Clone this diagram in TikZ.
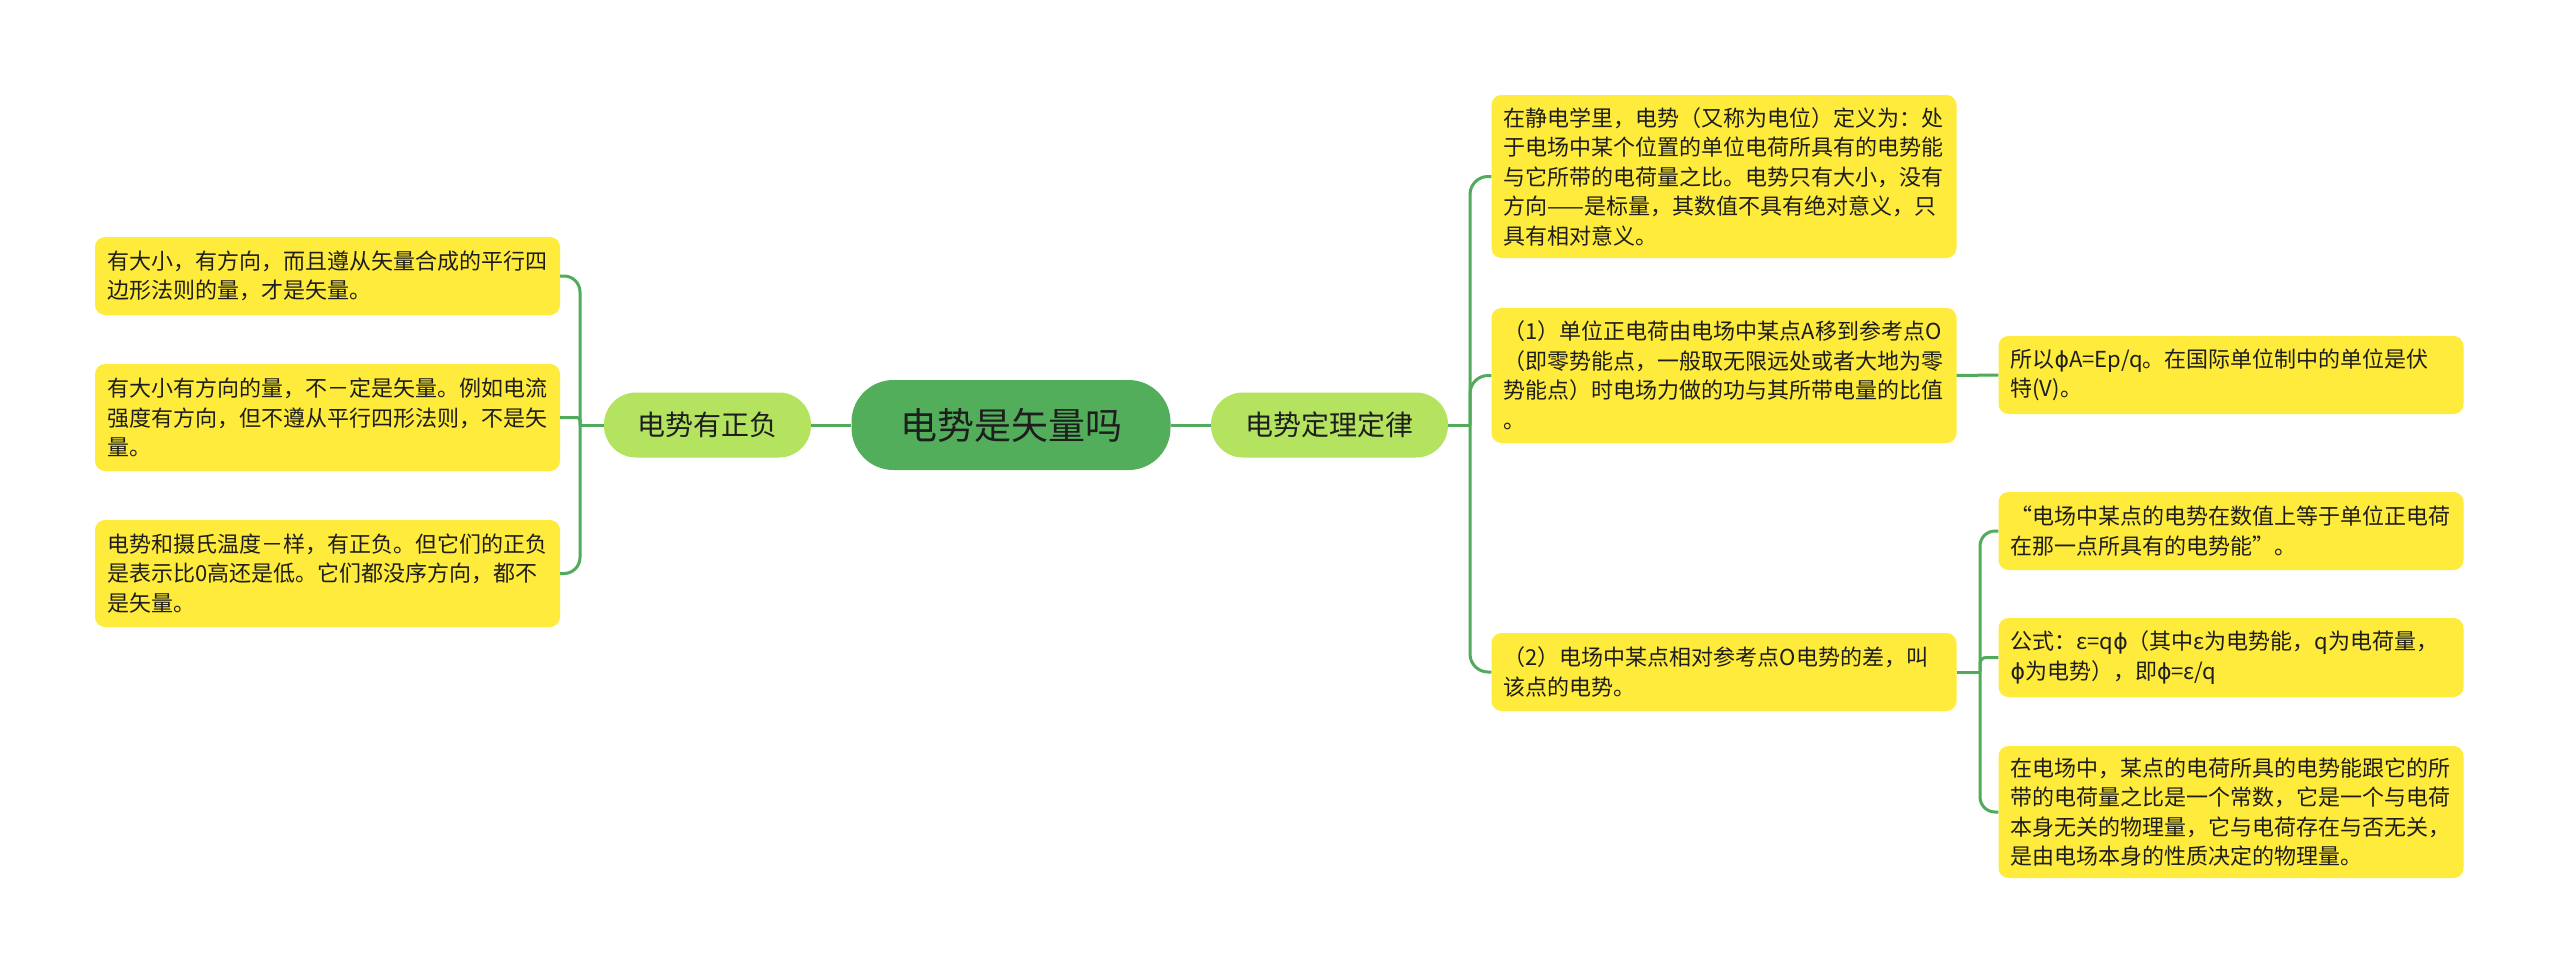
\documentclass[tikz,border=0pt]{standalone}
\usepackage{fontspec}
\setmainfont{Noto Sans CJK SC}
\newfontfamily\dejavufam{DejaVu Sans}
\newcommand{\myphi}{{\dejavufam ϕ}}
\definecolor{leafy}{RGB}{255,235,59}
\definecolor{branchg}{RGB}{180,227,96}
\definecolor{rootg}{RGB}{82,174,90}
\definecolor{connc}{RGB}{82,170,92}
\definecolor{txt}{RGB}{30,30,30}
\begin{document}
\begin{tikzpicture}[x=1pt,y=-1pt,
  leaf/.style={fill=leafy, rounded corners=10pt, text width=441pt, inner xsep=12pt, inner ysep=3pt,
    align=left, font=\fontsize{22}{29.5}\selectfont, text=txt},
  branch/.style={fill=branchg, rounded corners=32pt, minimum height=65pt, inner sep=0pt,
    font=\fontsize{28}{32}\selectfont, text=txt},
  rootnode/.style={fill=rootg, rounded corners=42pt, minimum width=319pt, minimum height=90pt, inner sep=0pt,
    font=\fontsize{37}{42}\selectfont, text=txt},
  conn/.style={draw=connc, line width=3pt}
]
\useasboundingbox[fill=white] (0,0) rectangle (2560,977);

% central and branch nodes
\node[rootnode] (root) at (1011,425) {电势是矢量吗};
\node[branch, minimum width=207pt] (lb) at (707.5,425) {电势有正负};
\node[branch, minimum width=237pt] (rb) at (1329.5,425) {电势定理定律};

% left leaves
\node[leaf, minimum height=78pt] (L1) at (327.5,276) {有大小，有方向，而且遵从矢量合成的平行四\\边形法则的量，才是矢量。};
\node[leaf, minimum height=107pt] (L2) at (327.5,417.5) {有大小有方向的量，不－定是矢量。例如电流\\强度有方向，但不遵从平行四形法则，不是矢\\量。};
\node[leaf, minimum height=107pt] (L3) at (327.5,573.5) {电势和摄氏温度－样，有正负。但它们的正负\\是表示比0高还是低。它们都没序方向，都不\\是矢量。};

% right second level
\node[leaf, minimum height=163pt] (R1) at (1724,176.5) {在静电学里，电势（又称为电位）定义为：处\\于电场中某个位置的单位电荷所具有的电势能\\与它所带的电荷量之比。电势只有大小，没有\\方向——是标量，其数值不具有绝对意义，只\\具有相对意义。};
\node[leaf, minimum height=135pt] (R2) at (1724,375.5) {（1）单位正电荷由电场中某点A移到参考点O\\（即零势能点，一般取无限远处或者大地为零\\势能点）时电场力做的功与其所带电量的比值\\。};
\node[leaf, minimum height=78pt] (R3) at (1724,672) {（2）电场中某点相对参考点O电势的差，叫\\该点的电势。};

% right third level
\node[leaf, minimum height=78pt] (R2a) at (2231,375) {所以\myphi A=Ep/q。在国际单位制中的单位是伏\\特(V)。};
\node[leaf, minimum height=78pt] (R3a) at (2231,531) {“电场中某点的电势在数值上等于单位正电荷\\在那一点所具有的电势能”。};
\node[leaf, minimum height=79pt] (R3b) at (2231,657.5) {公式：ε=q\myphi（其中ε为电势能，q为电荷量，\\\myphi 为电势），即\myphi=ε/q};
\node[leaf, minimum height=132pt] (R3c) at (2231,812) {在电场中，某点的电荷所具的电势能跟它的所\\带的电荷量之比是一个常数，它是一个与电荷\\本身无关的物理量，它与电荷存在与否无关，\\是由电场本身的性质决定的物理量。};

% spine coordinates
\coordinate (ls) at (580,425);
\coordinate (rs) at (1470,425);
\coordinate (r3s) at (1980,672);

% connectors
\draw[conn] (root.west) -- (lb.east);
\draw[conn] (root.east) -- (rb.west);
\draw[conn] (lb.west) -- (ls);
\draw[conn, rounded corners=16pt] (ls) |- (L1.east);
\draw[conn, rounded corners=3pt] (ls) |- (L2.east);
\draw[conn, rounded corners=16pt] (ls) |- (L3.east);

\draw[conn] (rb.east) -- (rs);
\draw[conn, rounded corners=18pt] (rs) |- (R1.west);
\draw[conn, rounded corners=18pt] (rs) |- (R2.west);
\draw[conn, rounded corners=18pt] (rs) |- (R3.west);

\draw[conn] (R2.east) -- (R2a.west);
\draw[conn] (R3.east) -- (r3s);
\draw[conn, rounded corners=15pt] (r3s) |- (R3a.west);
\draw[conn, rounded corners=6pt] (r3s) |- (R3b.west);
\draw[conn, rounded corners=15pt] (r3s) |- (R3c.west);
\end{tikzpicture}
\end{document}
